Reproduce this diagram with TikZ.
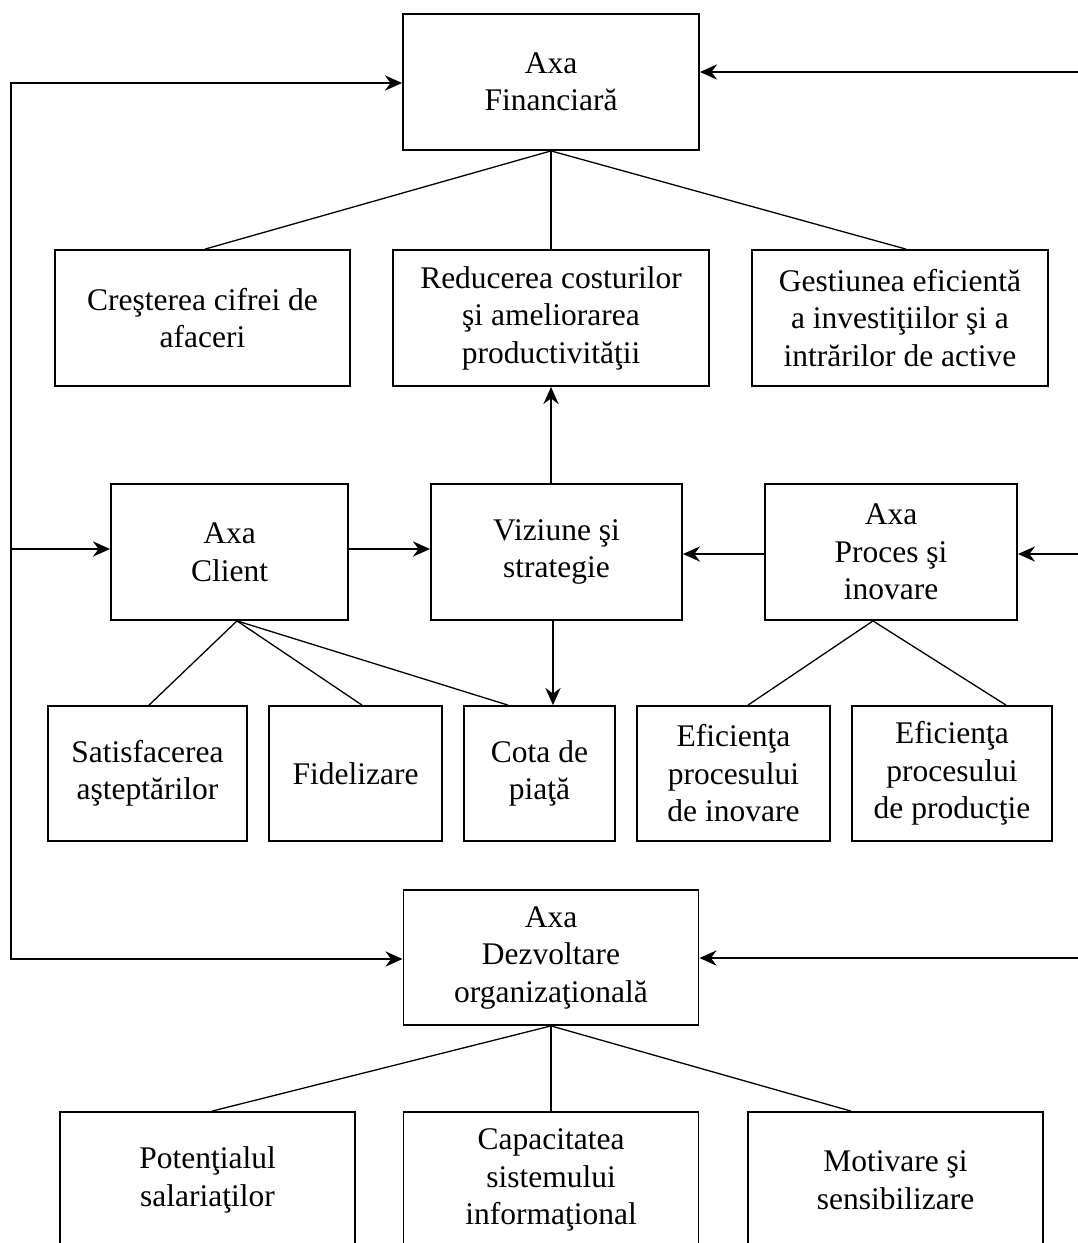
\documentclass[tikz,border=0pt]{standalone}
\usepackage{fontspec}
\setmainfont{Liberation Serif}
\usetikzlibrary{arrows.meta}
\begin{document}
\begin{tikzpicture}[x=1pt,y=-1pt,
  box/.style={draw, line width=1.8pt, inner sep=0pt, align=center,
    font=\fontsize{31.5}{37.5}\selectfont},
  link/.style={line width=1.3pt},
  arr/.style={line width=2.8pt, -{Stealth[length=17pt,width=15pt,inset=5.5pt]}}]
\useasboundingbox (0,0) rectangle (1078,1243);
\fill[white] (0,0) rectangle (1078,1243);
\clip (0,0) rectangle (1078,1243);

% row 1
\node[box, minimum width=296pt, minimum height=136pt] (fin) at (551,82) {Axa\\Financiară};
% row 2
\node[box, minimum width=295pt, minimum height=136pt] (cre) at (202.5,318) {Creşterea cifrei de\\afaceri};
\node[box, minimum width=316pt, minimum height=136pt] (red) at (551,318) {Reducerea costurilor\\şi ameliorarea\\productivităţii};
\node[box, minimum width=296pt, minimum height=136pt] (ges) at (900,318) {Gestiunea eficientă\\a investiţiilor şi a\\intrărilor de active};
% row 3
\node[box, minimum width=237pt, minimum height=136pt] (cli) at (229.5,552) {Axa\\Client};
\node[box, minimum width=251pt, minimum height=136pt] (viz) at (556.5,552) {Viziune şi\\strategie};
\node[box, minimum width=252pt, minimum height=136pt] (pro) at (891,552) {Axa\\Proces şi\\inovare};
% row 4
\node[box, minimum width=199pt, minimum height=135pt] (sat) at (147.5,773.5) {Satisfacerea\\aşteptărilor};
\node[box, minimum width=173pt, minimum height=135pt] (fid) at (355.5,773.5) {Fidelizare};
\node[box, minimum width=151pt, minimum height=135pt] (cot) at (539.5,773.5) {Cota de\\piaţă};
\node[box, minimum width=193pt, minimum height=135pt] (ef1) at (733.5,773.5) {Eficienţa\\procesului\\de inovare};
\node[box, minimum width=200pt, minimum height=135pt] (ef2) at (952,773.5) {Eficienţa\\procesului\\de producţie};
% row 5
\node[box, minimum width=295pt, minimum height=135pt] (dez) at (551,957.5) {Axa\\Dezvoltare\\organizaţională};
% row 6
\node[box, minimum width=295pt, minimum height=136pt] (pot) at (207.5,1180) {Potenţialul\\salariaţilor};
\node[box, minimum width=295pt, minimum height=136pt] (cap) at (551,1180) {Capacitatea\\sistemului\\informaţional};
\node[box, minimum width=295pt, minimum height=136pt] (mot) at (895.5,1180) {Motivare şi\\sensibilizare};

% thin links
\draw[link] (fin.south) -- (cre.north -| 205,0);
\draw[link] (fin.south) -- (red.north);
\draw[link] (fin.south) -- (ges.north -| 906,0);
\coordinate (ca) at ([xshift=7.5pt]cli.south);
\draw[link] (ca) -- (sat.north -| 149,0);
\draw[link] (ca) -- (fid.north -| 362,0);
\draw[link] (ca) -- (cot.north -| 508,0);
\coordinate (pa) at ([xshift=-18pt]pro.south);
\draw[link] (pa) -- (ef1.north -| 748,0);
\draw[link] (pa) -- (ef2.north -| 1006,0);
\draw[link] (dez.south) -- (pot.north -| 212,0);
\draw[link] (dez.south) -- (cap.north);
\draw[link] (dez.south) -- (mot.north -| 851,0);

% arrows between central nodes
\draw[arr] (red.south |- viz.north) -- (red.south);
\coordinate (vd) at ([xshift=-3.5pt]viz.south);
\draw[arr] (vd) -- (vd |- cot.north);
\draw[arr] (cli.east |- 0,549) -- (viz.west |- 0,549);
\draw[arr] (pro.west |- 0,554) -- (viz.east |- 0,554);

% left feedback line
\coordinate (L1) at (11,83);
\coordinate (L2) at (11,549);
\coordinate (L3) at (11,959);
\draw[arr] (L2) -- (L1) -- (L1 -| fin.west);
\draw[arr] (L2) -- (L3) -- (L3 -| dez.west);
\draw[arr] (L2) -- (L2 -| cli.west);

% right incoming arrows
\coordinate (R1) at (1090,72);
\coordinate (R2) at (1090,554);
\coordinate (R3) at (1090,958);
\draw[arr] (R1) -- (R1 -| fin.east);
\draw[arr] (R2) -- (R2 -| pro.east);
\draw[arr] (R3) -- (R3 -| dez.east);
\end{tikzpicture}
\end{document}
